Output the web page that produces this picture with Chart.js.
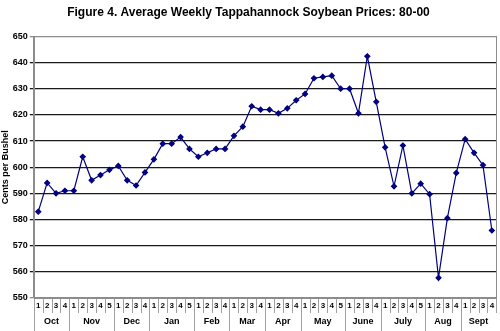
<!DOCTYPE html>
<html>
<head>
<meta charset="utf-8">
<script src="https://cdn.jsdelivr.net/npm/chart.js@4.4.0/dist/chart.umd.min.js"></script>
<style>
  html, body { margin: 0; padding: 0; background: #fff; }
  #wrap { width: 500px; height: 331px; position: relative; }
</style>
</head>
<body>
<div id="wrap"><canvas id="c" width="500" height="331"></canvas></div>
<script>
// months and how many weeks each one has
var months = ["Oct", "Nov", "Dec", "Jan", "Feb", "Mar", "Apr", "May", "June", "July", "Aug", "Sept"];
var weeksInMonth = [4, 5, 4, 5, 4, 4, 4, 5, 4, 5, 4, 4];

// average weekly price, cents per bushel
var prices = [
  583, 594, 590, 591,
  591, 604, 595, 597, 599,
  600.5, 595, 593, 598,
  603, 609, 609, 611.5, 607,
  604, 605.5, 607, 607,
  612, 615.5, 623.3, 622,
  622, 620.6, 622.5, 625.6,
  628, 634, 634.5, 635, 630,
  630, 620.6, 642.4, 625,
  607.6, 592.7, 608.3, 590, 593.7,
  589.7, 557.7, 580.5, 597.8,
  610.7, 605.5, 600.8, 575.8
];

var yTicks = [550, 560, 570, 580, 590, 600, 610, 620, 630, 640, 650];

var weekLabels = [];
for (var m = 0; m < weeksInMonth.length; m++) {
  for (var w = 1; w <= weeksInMonth[m]; w++) weekLabels.push(String(w));
}

var FONT = "'Liberation Sans', Arial, sans-serif";

// two-row category table under the plot: week numbers, then months
var weekTable = {
  id: "weekTable",
  afterDraw: function(chart) {
    var ctx = chart.ctx, xs = chart.scales.x, area = chart.chartArea;
    var half = (xs.getPixelForValue(1) - xs.getPixelForValue(0)) / 2;
    var bot = area.bottom;
    ctx.save();
    ctx.fillStyle = "#000";
    ctx.textAlign = "center";
    ctx.textBaseline = "middle";
    ctx.strokeStyle = "#a0a0a0";
    ctx.lineWidth = 1;
    ctx.font = "bold 8px " + FONT;
    for (var i = 0; i < weekLabels.length; i++) {
      var px = xs.getPixelForValue(i);
      ctx.fillText(weekLabels[i], px, bot + 8);
      var sx = Math.round(px + half) + 0.5;
      ctx.beginPath();
      ctx.moveTo(sx, bot);
      ctx.lineTo(sx, bot + 15);
      ctx.stroke();
    }
    ctx.font = "bold 9px " + FONT;
    var idx = 0;
    for (var m = 0; m < months.length; m++) {
      var x0 = xs.getPixelForValue(idx) - half;
      var x1 = xs.getPixelForValue(idx + weeksInMonth[m] - 1) + half;
      ctx.fillText(months[m], (x0 + x1) / 2, bot + 24);
      ctx.beginPath();
      ctx.moveTo(Math.round(x0) + 0.5, bot);
      ctx.lineTo(Math.round(x0) + 0.5, chart.height);
      ctx.stroke();
      idx += weeksInMonth[m];
    }
    // plot frame
    ctx.strokeStyle = "#8c8c8c";
    ctx.strokeRect(Math.round(area.left) + 0.5, Math.round(area.top) + 0.5,
                   Math.round(area.right - area.left), Math.round(area.bottom - area.top));
    ctx.restore();
  }
};

new Chart(document.getElementById("c"), {
  type: "line",
  data: {
    labels: weekLabels,
    datasets: [{
      data: prices,
      borderColor: "#000080",
      backgroundColor: "#000080",
      borderWidth: 1.2,
      pointStyle: "rectRot",
      pointRadius: 2.5,
      pointHoverRadius: 2.5,
      tension: 0
    }]
  },
  options: {
    responsive: false,
    animation: false,
    layout: { padding: { top: 5, right: 3, bottom: 0, left: 0 } },
    plugins: {
      legend: { display: false },
      tooltip: { enabled: false },
      title: {
        display: true,
        text: "Figure 4. Average Weekly Tappahannock Soybean Prices: 80-00",
        color: "#000",
        font: { family: FONT, size: 12, weight: "bold" },
        padding: { top: 0, bottom: 17 }
      }
    },
    scales: {
      x: {
        offset: true,
        grid: { display: false },
        border: { display: false },
        ticks: { display: false },
        afterFit: function(axis) { axis.height = 33; }
      },
      y: {
        min: 550,
        max: 650,
        afterBuildTicks: function(axis) { axis.ticks = yTicks.map(function(v) { return { value: v }; }); },
        grid: {
          color: function(c) { return (c.tick && (c.tick.value === 550 || c.tick.value === 650)) ? "#8c8c8c" : "#1a1a1a"; },
          lineWidth: 1.3,
          tickLength: 4
        },
        border: { color: "#8c8c8c" },
        ticks: { color: "#000", font: { family: FONT, size: 9, weight: "bold" }, padding: 2 },
        title: { display: true, text: "Cents per Bushel", color: "#000", font: { family: FONT, size: 9, weight: "bold" }, padding: 0 }
      }
    }
  },
  plugins: [weekTable]
});
</script>
</body>
</html>
